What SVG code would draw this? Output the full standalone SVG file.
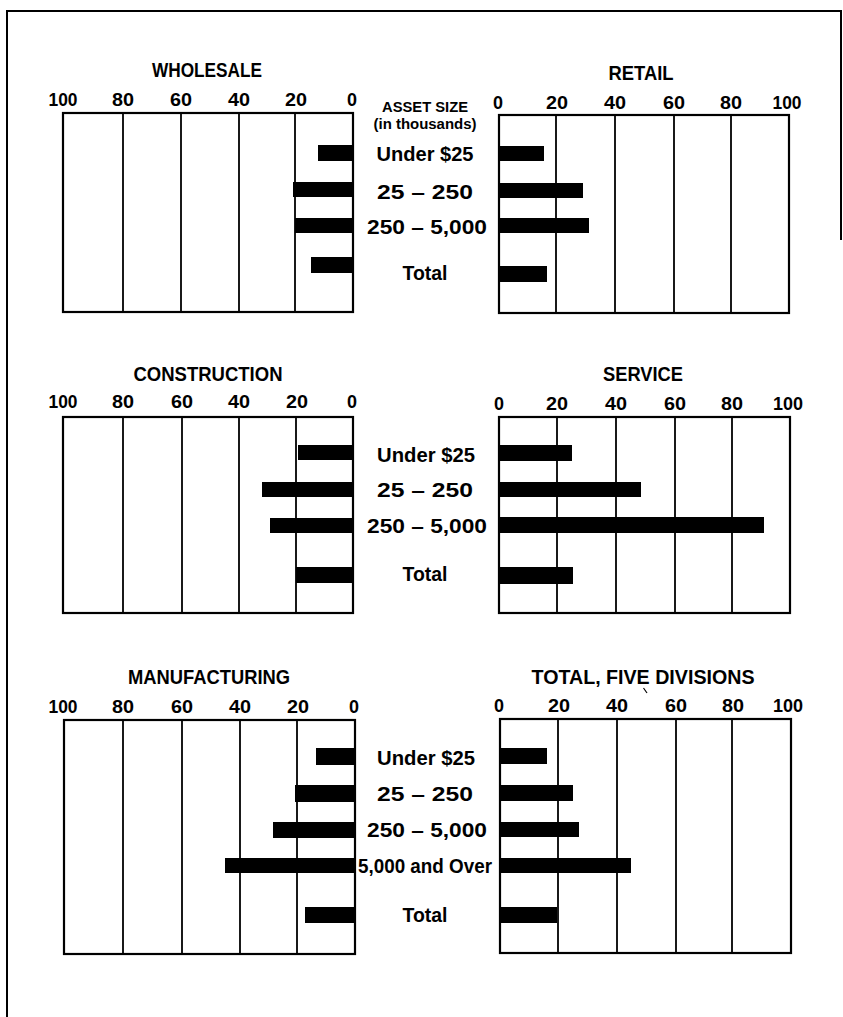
<svg xmlns="http://www.w3.org/2000/svg" width="843" height="1017" viewBox="0 0 843 1017">
<style>
text{font-family:"Liberation Sans","DejaVu Sans",sans-serif;font-weight:bold;fill:#000;text-anchor:middle}
.t{font-size:20px}
.k{font-size:18.5px}
.l{font-size:20.5px}
.s{font-size:14px}
.box{fill:none;stroke:#000;stroke-width:2.2}
.g{stroke:#000;stroke-width:1.8}
.bar{fill:#000}
.frame{fill:none;stroke:#000;stroke-width:2}
</style>
<rect width="843" height="1017" fill="#fff"/>
<g id="frame">
<polyline class="frame" points="7,1017 7,11 841,11 841,240"/>
</g>

<g id="wholesale">
<text class="t" x="207" y="77" textLength="110" lengthAdjust="spacingAndGlyphs">WHOLESALE</text>
<g class="k">
<text x="63" y="106" textLength="29" lengthAdjust="spacingAndGlyphs">100</text>
<text x="123" y="106" textLength="22" lengthAdjust="spacingAndGlyphs">80</text>
<text x="181" y="106" textLength="22" lengthAdjust="spacingAndGlyphs">60</text>
<text x="239" y="106" textLength="22" lengthAdjust="spacingAndGlyphs">40</text>
<text x="296" y="106" textLength="22" lengthAdjust="spacingAndGlyphs">20</text>
<text x="352" y="106" textLength="10" lengthAdjust="spacingAndGlyphs">0</text>
</g>
<rect class="box" x="63" y="113" width="290" height="199"/>
<line class="g" x1="123" y1="113" x2="123" y2="312"/>
<line class="g" x1="181" y1="113" x2="181" y2="312"/>
<line class="g" x1="239" y1="113" x2="239" y2="312"/>
<line class="g" x1="295" y1="113" x2="295" y2="312"/>
<rect class="bar" x="318" y="145" width="35" height="16"/>
<rect class="bar" x="293" y="182" width="60" height="15"/>
<rect class="bar" x="295" y="218" width="58" height="15"/>
<rect class="bar" x="311" y="257" width="42" height="16"/>
</g>

<g id="retail">
<text class="t" x="641" y="80" textLength="65" lengthAdjust="spacingAndGlyphs">RETAIL</text>
<g class="k">
<text x="498" y="109" textLength="10" lengthAdjust="spacingAndGlyphs">0</text>
<text x="557" y="109" textLength="22" lengthAdjust="spacingAndGlyphs">20</text>
<text x="615" y="109" textLength="22" lengthAdjust="spacingAndGlyphs">40</text>
<text x="674" y="109" textLength="22" lengthAdjust="spacingAndGlyphs">60</text>
<text x="731" y="109" textLength="22" lengthAdjust="spacingAndGlyphs">80</text>
<text x="787" y="109" textLength="29" lengthAdjust="spacingAndGlyphs">100</text>
</g>
<rect class="box" x="499" y="115" width="290" height="198"/>
<line class="g" x1="556" y1="115" x2="556" y2="313"/>
<line class="g" x1="615" y1="115" x2="615" y2="313"/>
<line class="g" x1="674" y1="115" x2="674" y2="313"/>
<line class="g" x1="731" y1="115" x2="731" y2="313"/>
<rect class="bar" x="499" y="146" width="45" height="15"/>
<rect class="bar" x="499" y="183" width="84" height="15"/>
<rect class="bar" x="499" y="218" width="90" height="15"/>
<rect class="bar" x="499" y="266" width="48" height="16"/>
</g>

<g id="labels-top">
<text class="s" x="425" y="112" textLength="86" lengthAdjust="spacingAndGlyphs">ASSET SIZE</text>
<text class="s" x="425" y="129" textLength="103" lengthAdjust="spacingAndGlyphs">(in thousands)</text>
<text class="l" x="425" y="161" textLength="97" lengthAdjust="spacingAndGlyphs">Under $25</text>
<text class="l" x="425" y="199" textLength="96" lengthAdjust="spacingAndGlyphs">25 – 250</text>
<text class="l" x="427" y="234" textLength="120" lengthAdjust="spacingAndGlyphs">250 – 5,000</text>
<text class="l" x="425" y="280" textLength="45" lengthAdjust="spacingAndGlyphs">Total</text>
</g>

<g id="construction">
<text class="t" x="208" y="381" textLength="149" lengthAdjust="spacingAndGlyphs">CONSTRUCTION</text>
<g class="k">
<text x="63" y="408" textLength="29" lengthAdjust="spacingAndGlyphs">100</text>
<text x="123" y="408" textLength="22" lengthAdjust="spacingAndGlyphs">80</text>
<text x="182" y="408" textLength="22" lengthAdjust="spacingAndGlyphs">60</text>
<text x="239" y="408" textLength="22" lengthAdjust="spacingAndGlyphs">40</text>
<text x="297" y="408" textLength="22" lengthAdjust="spacingAndGlyphs">20</text>
<text x="352" y="408" textLength="10" lengthAdjust="spacingAndGlyphs">0</text>
</g>
<rect class="box" x="63" y="417" width="290" height="196"/>
<line class="g" x1="123" y1="417" x2="123" y2="613"/>
<line class="g" x1="182" y1="417" x2="182" y2="613"/>
<line class="g" x1="239" y1="417" x2="239" y2="613"/>
<line class="g" x1="296" y1="417" x2="296" y2="613"/>
<rect class="bar" x="298" y="445" width="55" height="15"/>
<rect class="bar" x="262" y="482" width="91" height="15"/>
<rect class="bar" x="270" y="518" width="83" height="15"/>
<rect class="bar" x="296" y="567" width="57" height="16"/>
</g>

<g id="service">
<text class="t" x="643" y="381" textLength="80" lengthAdjust="spacingAndGlyphs">SERVICE</text>
<g class="k">
<text x="499" y="410" textLength="10" lengthAdjust="spacingAndGlyphs">0</text>
<text x="557" y="410" textLength="22" lengthAdjust="spacingAndGlyphs">20</text>
<text x="616" y="410" textLength="22" lengthAdjust="spacingAndGlyphs">40</text>
<text x="675" y="410" textLength="22" lengthAdjust="spacingAndGlyphs">60</text>
<text x="732" y="410" textLength="22" lengthAdjust="spacingAndGlyphs">80</text>
<text x="788" y="410" textLength="30" lengthAdjust="spacingAndGlyphs">100</text>
</g>
<rect class="box" x="499" y="417" width="291" height="196"/>
<line class="g" x1="557" y1="417" x2="557" y2="613"/>
<line class="g" x1="616" y1="417" x2="616" y2="613"/>
<line class="g" x1="675" y1="417" x2="675" y2="613"/>
<line class="g" x1="732" y1="417" x2="732" y2="613"/>
<rect class="bar" x="499" y="445" width="73" height="16"/>
<rect class="bar" x="499" y="482" width="142" height="15"/>
<rect class="bar" x="499" y="517" width="265" height="16"/>
<rect class="bar" x="499" y="567" width="74" height="17"/>
</g>

<g id="labels-middle">
<text class="l" x="426" y="462" textLength="98" lengthAdjust="spacingAndGlyphs">Under $25</text>
<text class="l" x="425" y="497" textLength="96" lengthAdjust="spacingAndGlyphs">25 – 250</text>
<text class="l" x="427" y="533" textLength="120" lengthAdjust="spacingAndGlyphs">250 – 5,000</text>
<text class="l" x="425" y="581" textLength="45" lengthAdjust="spacingAndGlyphs">Total</text>
</g>

<g id="manufacturing">
<text class="t" x="209" y="684" textLength="162" lengthAdjust="spacingAndGlyphs">MANUFACTURING</text>
<g class="k">
<text x="63" y="713" textLength="29" lengthAdjust="spacingAndGlyphs">100</text>
<text x="123" y="713" textLength="22" lengthAdjust="spacingAndGlyphs">80</text>
<text x="182" y="713" textLength="22" lengthAdjust="spacingAndGlyphs">60</text>
<text x="240" y="713" textLength="22" lengthAdjust="spacingAndGlyphs">40</text>
<text x="298" y="713" textLength="22" lengthAdjust="spacingAndGlyphs">20</text>
<text x="354" y="713" textLength="10" lengthAdjust="spacingAndGlyphs">0</text>
</g>
<rect class="box" x="64" y="720" width="291" height="234"/>
<line class="g" x1="123" y1="720" x2="123" y2="954"/>
<line class="g" x1="182" y1="720" x2="182" y2="954"/>
<line class="g" x1="240" y1="720" x2="240" y2="954"/>
<line class="g" x1="297" y1="720" x2="297" y2="954"/>
<rect class="bar" x="316" y="748" width="39" height="17"/>
<rect class="bar" x="295" y="785" width="60" height="17"/>
<rect class="bar" x="273" y="822" width="82" height="16"/>
<rect class="bar" x="225" y="858" width="130" height="15"/>
<rect class="bar" x="305" y="907" width="50" height="16"/>
</g>

<g id="total-five-divisions">
<text class="t" x="643" y="684" textLength="223" lengthAdjust="spacingAndGlyphs">TOTAL, FIVE DIVISIONS</text>
<line x1="643.5" y1="688" x2="647" y2="693" stroke="#000" stroke-width="1.2"/>
<g class="k">
<text x="499" y="712" textLength="10" lengthAdjust="spacingAndGlyphs">0</text>
<text x="559" y="712" textLength="22" lengthAdjust="spacingAndGlyphs">20</text>
<text x="617" y="712" textLength="22" lengthAdjust="spacingAndGlyphs">40</text>
<text x="676" y="712" textLength="22" lengthAdjust="spacingAndGlyphs">60</text>
<text x="733" y="712" textLength="22" lengthAdjust="spacingAndGlyphs">80</text>
<text x="788" y="712" textLength="30" lengthAdjust="spacingAndGlyphs">100</text>
</g>
<rect class="box" x="500" y="719" width="291" height="234"/>
<line class="g" x1="558" y1="719" x2="558" y2="953"/>
<line class="g" x1="617" y1="719" x2="617" y2="953"/>
<line class="g" x1="676" y1="719" x2="676" y2="953"/>
<line class="g" x1="732" y1="719" x2="732" y2="953"/>
<rect class="bar" x="500" y="748" width="47" height="16"/>
<rect class="bar" x="500" y="785" width="73" height="16"/>
<rect class="bar" x="500" y="822" width="79" height="15"/>
<rect class="bar" x="500" y="858" width="131" height="15"/>
<rect class="bar" x="500" y="907" width="57" height="16"/>
</g>

<g id="labels-bottom">
<text class="l" x="426" y="765" textLength="98" lengthAdjust="spacingAndGlyphs">Under $25</text>
<text class="l" x="425" y="801" textLength="96" lengthAdjust="spacingAndGlyphs">25 – 250</text>
<text class="l" x="427" y="837" textLength="120" lengthAdjust="spacingAndGlyphs">250 – 5,000</text>
<text class="l" x="425" y="873" textLength="134" lengthAdjust="spacingAndGlyphs">5,000 and Over</text>
<text class="l" x="425" y="922" textLength="45" lengthAdjust="spacingAndGlyphs">Total</text>
</g>

<g id="connectors"></g>
</svg>
